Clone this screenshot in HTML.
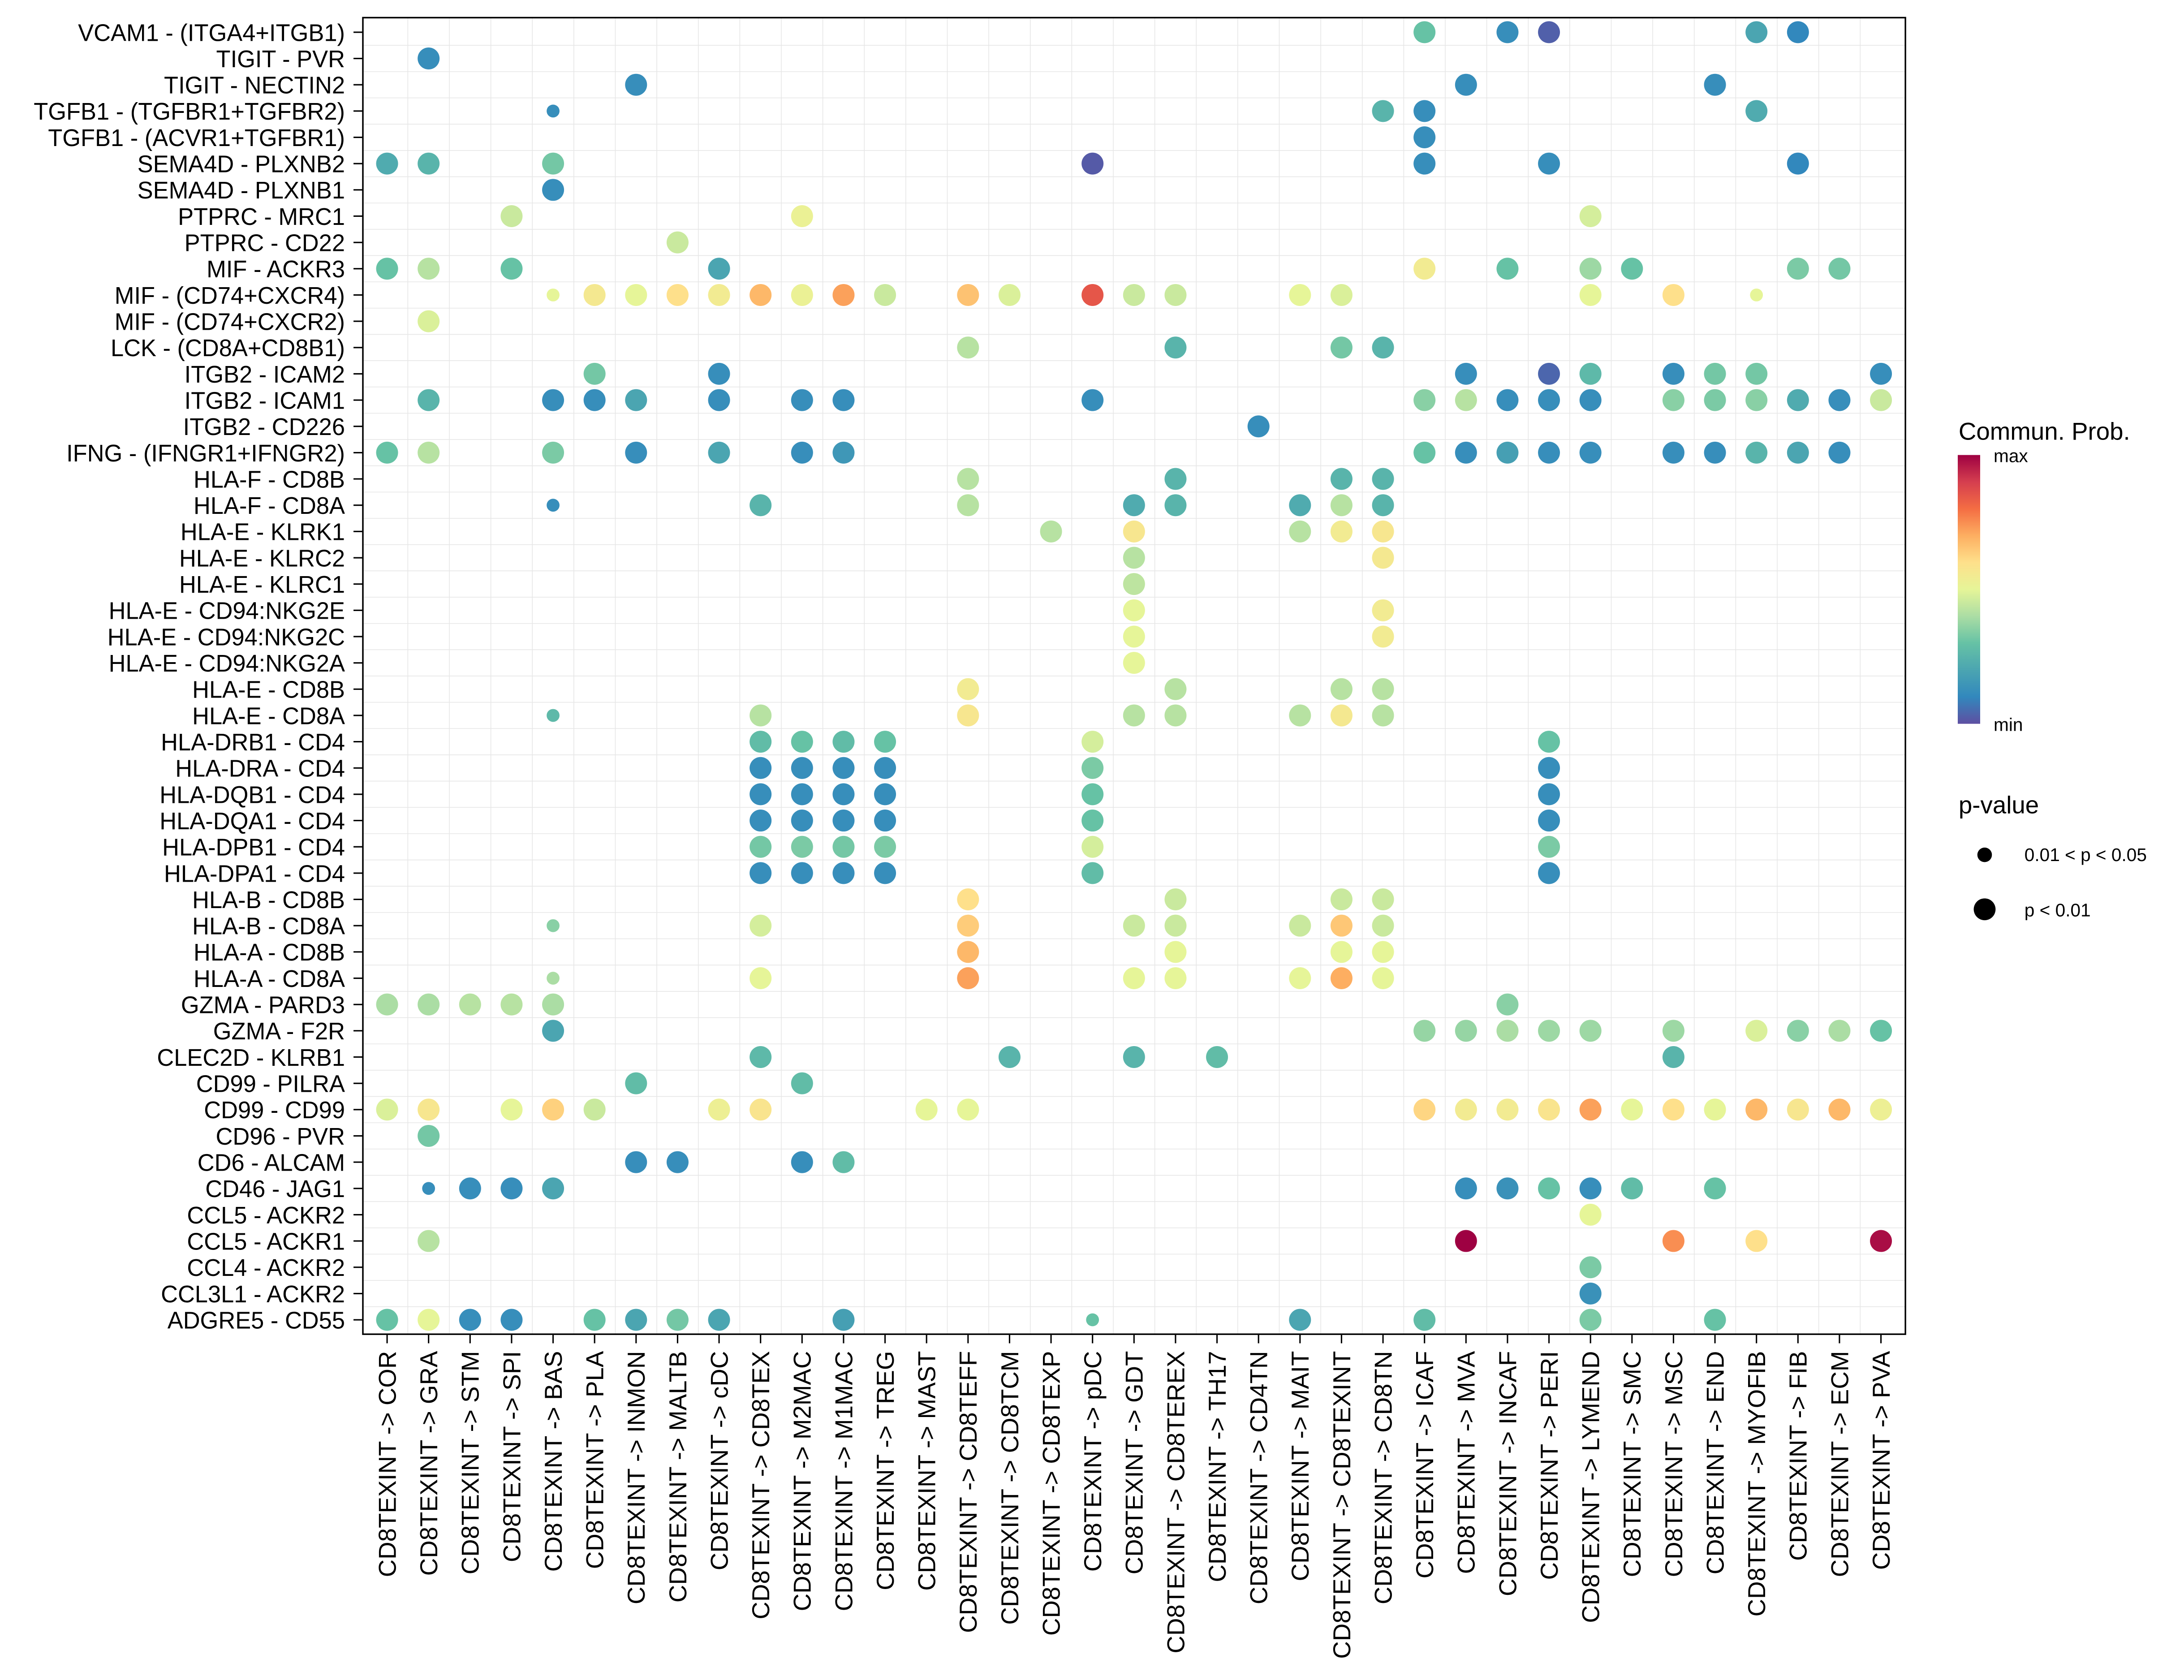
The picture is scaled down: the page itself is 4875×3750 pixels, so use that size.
<!DOCTYPE html>
<html><head><meta charset="utf-8"><style>
html,body{margin:0;padding:0;background:#fff;}
svg{display:block;font-family:"Liberation Sans",Arial,sans-serif;}
</style></head><body>
<svg id="chart" xmlns="http://www.w3.org/2000/svg" width="4875" height="3750" viewBox="0 0 1560 1200">
<defs>
<linearGradient id="cbar" x1="0" y1="1" x2="0" y2="0">
<stop offset="0" stop-color="#5E4FA2"/><stop offset="0.1" stop-color="#3288BD"/><stop offset="0.2" stop-color="#4BA5B1"/><stop offset="0.3" stop-color="#66C2A5"/><stop offset="0.4" stop-color="#ABDDA4"/><stop offset="0.5" stop-color="#E6F598"/><stop offset="0.6" stop-color="#FEE08B"/><stop offset="0.7" stop-color="#FDAE61"/><stop offset="0.8" stop-color="#F46D43"/><stop offset="0.9" stop-color="#D53E4F"/><stop offset="1" stop-color="#9E0142"/>
</linearGradient>
</defs>
<g id="grid"></g>
<g id="dots"></g>
<rect x="259.2" y="12.6" width="1101.8" height="940.4" fill="none" stroke="#000" stroke-width="1.1"/>
<g id="ylab"></g>
<g id="xlab"></g>
<g>
<text x="1399" y="314" font-size="17.5" fill="#000">Commun. Prob.</text>
<rect x="1398.4" y="325" width="16" height="192" fill="url(#cbar)"/>
<text x="1424" y="330" font-size="13">max</text>
<text x="1424" y="522" font-size="13">min</text>
</g>
<g>
<text x="1399" y="581" font-size="17.5">p-value</text>
<circle cx="1417.6" cy="610.6" r="5.2" fill="#000"/>
<text x="1446" y="615" font-size="13">0.01 &lt; p &lt; 0.05</text>
<circle cx="1417.6" cy="649.5" r="7.8" fill="#000"/>
<text x="1446" y="654.5" font-size="13">p &lt; 0.01</text>
</g>
</svg>
<script>
const rowLabels = ["VCAM1 - (ITGA4+ITGB1)","TIGIT - PVR","TIGIT - NECTIN2","TGFB1 - (TGFBR1+TGFBR2)","TGFB1 - (ACVR1+TGFBR1)","SEMA4D - PLXNB2","SEMA4D - PLXNB1","PTPRC - MRC1","PTPRC - CD22","MIF - ACKR3","MIF - (CD74+CXCR4)","MIF - (CD74+CXCR2)","LCK - (CD8A+CD8B1)","ITGB2 - ICAM2","ITGB2 - ICAM1","ITGB2 - CD226","IFNG - (IFNGR1+IFNGR2)","HLA-F - CD8B","HLA-F - CD8A","HLA-E - KLRK1","HLA-E - KLRC2","HLA-E - KLRC1","HLA-E - CD94:NKG2E","HLA-E - CD94:NKG2C","HLA-E - CD94:NKG2A","HLA-E - CD8B","HLA-E - CD8A","HLA-DRB1 - CD4","HLA-DRA - CD4","HLA-DQB1 - CD4","HLA-DQA1 - CD4","HLA-DPB1 - CD4","HLA-DPA1 - CD4","HLA-B - CD8B","HLA-B - CD8A","HLA-A - CD8B","HLA-A - CD8A","GZMA - PARD3","GZMA - F2R","CLEC2D - KLRB1","CD99 - PILRA","CD99 - CD99","CD96 - PVR","CD6 - ALCAM","CD46 - JAG1","CCL5 - ACKR2","CCL5 - ACKR1","CCL4 - ACKR2","CCL3L1 - ACKR2","ADGRE5 - CD55"];
const colTargets = ["COR","GRA","STM","SPI","BAS","PLA","INMON","MALTB","cDC","CD8TEX","M2MAC","M1MAC","TREG","MAST","CD8TEFF","CD8TCM","CD8TEXP","pDC","GDT","CD8TEREX","TH17","CD4TN","MAIT","CD8TEXINT","CD8TN","ICAF","MVA","INCAF","PERI","LYMEND","SMC","MSC","END","MYOFIB","FIB","ECM","PVA"];
// each row: [colIndex, commProb (0=min..1=max), significant (1: p<0.01, 0: 0.01<p<0.05)]
const rowPoints = [
[[25,0.3,1],[27,0.12,1],[28,0.03,1],[33,0.2,1],[34,0.1,1]],
[[1,0.12,1]],
[[6,0.12,1],[26,0.12,1],[32,0.12,1]],
[[4,0.12,0],[24,0.25,1],[25,0.12,1],[33,0.22,1]],
[[25,0.12,1]],
[[0,0.22,1],[1,0.25,1],[4,0.32,1],[17,0.02,1],[25,0.12,1],[28,0.12,1],[34,0.1,1]],
[[4,0.12,1]],
[[3,0.45,1],[10,0.52,1],[29,0.47,1]],
[[7,0.45,1]],
[[0,0.3,1],[1,0.42,1],[3,0.3,1],[8,0.2,1],[25,0.55,1],[27,0.3,1],[29,0.38,1],[30,0.3,1],[34,0.33,1],[35,0.32,1]],
[[4,0.5,0],[5,0.56,1],[6,0.5,1],[7,0.6,1],[8,0.55,1],[9,0.68,1],[10,0.52,1],[11,0.72,1],[12,0.45,1],[14,0.66,1],[15,0.48,1],[17,0.85,1],[18,0.45,1],[19,0.45,1],[22,0.5,1],[23,0.48,1],[29,0.5,1],[31,0.6,1],[33,0.5,0]],
[[1,0.48,1]],
[[14,0.42,1],[19,0.25,1],[23,0.32,1],[24,0.25,1]],
[[5,0.32,1],[8,0.12,1],[26,0.12,1],[28,0.04,1],[29,0.27,1],[31,0.12,1],[32,0.32,1],[33,0.32,1],[36,0.12,1]],
[[1,0.25,1],[4,0.12,1],[5,0.12,1],[6,0.2,1],[8,0.12,1],[10,0.12,1],[11,0.12,1],[17,0.12,1],[25,0.35,1],[26,0.42,1],[27,0.12,1],[28,0.12,1],[29,0.12,1],[31,0.35,1],[32,0.33,1],[33,0.35,1],[34,0.22,1],[35,0.12,1],[36,0.45,1]],
[[21,0.12,1]],
[[0,0.3,1],[1,0.42,1],[4,0.33,1],[6,0.12,1],[8,0.2,1],[10,0.12,1],[11,0.15,1],[25,0.3,1],[26,0.12,1],[27,0.18,1],[28,0.12,1],[29,0.12,1],[31,0.12,1],[32,0.12,1],[33,0.25,1],[34,0.2,1],[35,0.12,1]],
[[14,0.42,1],[19,0.25,1],[23,0.25,1],[24,0.25,1]],
[[4,0.12,0],[9,0.25,1],[14,0.42,1],[18,0.22,1],[19,0.25,1],[22,0.22,1],[23,0.42,1],[24,0.25,1]],
[[16,0.42,1],[18,0.57,1],[22,0.42,1],[23,0.55,1],[24,0.57,1]],
[[18,0.42,1],[24,0.56,1]],
[[18,0.43,1]],
[[18,0.5,1],[24,0.55,1]],
[[18,0.5,1],[24,0.55,1]],
[[18,0.5,1]],
[[14,0.55,1],[19,0.42,1],[23,0.42,1],[24,0.42,1]],
[[4,0.27,0],[9,0.42,1],[14,0.57,1],[18,0.42,1],[19,0.42,1],[22,0.42,1],[23,0.56,1],[24,0.42,1]],
[[9,0.28,1],[10,0.3,1],[11,0.28,1],[12,0.3,1],[17,0.47,1],[28,0.3,1]],
[[9,0.12,1],[10,0.12,1],[11,0.12,1],[12,0.12,1],[17,0.33,1],[28,0.12,1]],
[[9,0.12,1],[10,0.12,1],[11,0.12,1],[12,0.12,1],[17,0.3,1],[28,0.12,1]],
[[9,0.12,1],[10,0.12,1],[11,0.12,1],[12,0.12,1],[17,0.3,1],[28,0.12,1]],
[[9,0.32,1],[10,0.33,1],[11,0.32,1],[12,0.33,1],[17,0.47,1],[28,0.33,1]],
[[9,0.12,1],[10,0.12,1],[11,0.12,1],[12,0.12,1],[17,0.28,1],[28,0.12,1]],
[[14,0.6,1],[19,0.45,1],[23,0.45,1],[24,0.45,1]],
[[4,0.35,0],[9,0.47,1],[14,0.64,1],[18,0.45,1],[19,0.45,1],[22,0.45,1],[23,0.65,1],[24,0.45,1]],
[[14,0.68,1],[19,0.5,1],[23,0.5,1],[24,0.5,1]],
[[4,0.4,0],[9,0.5,1],[14,0.72,1],[18,0.5,1],[19,0.5,1],[22,0.5,1],[23,0.7,1],[24,0.5,1]],
[[0,0.4,1],[1,0.4,1],[2,0.42,1],[3,0.42,1],[4,0.4,1],[27,0.35,1]],
[[4,0.2,1],[25,0.37,1],[26,0.37,1],[27,0.4,1],[28,0.38,1],[29,0.38,1],[31,0.38,1],[33,0.48,1],[34,0.35,1],[35,0.4,1],[36,0.3,1]],
[[9,0.27,1],[15,0.25,1],[18,0.25,1],[20,0.28,1],[31,0.25,1]],
[[6,0.28,1],[10,0.28,1]],
[[0,0.48,1],[1,0.57,1],[3,0.5,1],[4,0.63,1],[5,0.45,1],[8,0.53,1],[9,0.58,1],[13,0.5,1],[14,0.5,1],[25,0.62,1],[26,0.55,1],[27,0.55,1],[28,0.58,1],[29,0.72,1],[30,0.5,1],[31,0.6,1],[32,0.5,1],[33,0.68,1],[34,0.57,1],[35,0.68,1],[36,0.53,1]],
[[1,0.32,1]],
[[6,0.12,1],[7,0.12,1],[10,0.12,1],[11,0.28,1]],
[[1,0.12,0],[2,0.12,1],[3,0.12,1],[4,0.2,1],[26,0.12,1],[27,0.13,1],[28,0.3,1],[29,0.12,1],[30,0.28,1],[32,0.3,1]],
[[29,0.5,1]],
[[1,0.42,1],[26,1.0,1],[31,0.75,1],[33,0.6,1],[36,0.98,1]],
[[29,0.33,1]],
[[29,0.13,1]],
[[0,0.3,1],[1,0.5,1],[2,0.12,1],[3,0.12,1],[5,0.3,1],[6,0.2,1],[7,0.32,1],[8,0.2,1],[11,0.18,1],[17,0.3,0],[22,0.2,1],[25,0.28,1],[29,0.33,1],[32,0.3,1]]
];
const palette = ["#5E4FA2","#3288BD","#4BA5B1","#66C2A5","#ABDDA4","#E6F598","#FEE08B","#FDAE61","#F46D43","#D53E4F","#9E0142"];

const NS="http://www.w3.org/2000/svg";
const X0=276.5, XSTEP=29.64, Y0=23, YSTEP=18.77;
const LEFT=259.2, RIGHT=1361, TOP=12.6, BOTTOM=953;
function xScale(c){return X0+XSTEP*c;}
function yScale(r){return Y0+YSTEP*r;}
function hex(h){return [1,3,5].map(i=>parseInt(h.substr(i,2),16));}
function color(v){
  v=Math.max(0,Math.min(1,v));const t=v*(palette.length-1);const i=Math.min(Math.floor(t),palette.length-2);const f=t-i;
  const a=hex(palette[i]),b=hex(palette[i+1]);
  return "rgb("+a.map((x,k)=>Math.round(x+(b[k]-x)*f)).join(",")+")";
}
function mk(tag,attrs,parent){const e=document.createElementNS(NS,tag);for(const k in attrs)e.setAttribute(k,attrs[k]);parent.appendChild(e);return e;}
const grid=document.getElementById('grid'),dots=document.getElementById('dots'),ylab=document.getElementById('ylab'),xlab=document.getElementById('xlab');
for(let r=0;r<rowLabels.length-1;r++){
  const y=yScale(r+0.5);
  const g=mk('line',{x1:LEFT,x2:RIGHT,y1:y,y2:y,stroke:'#e6e6e6','stroke-width':0.5},grid);
  
  
}
for(let c=0;c<colTargets.length-1;c++){
  const x=xScale(c+0.5);
  const g=mk('line',{x1:x,x2:x,y1:TOP,y2:BOTTOM,stroke:'#e6e6e6','stroke-width':0.5},grid);
  
  
}
rowLabels.forEach((lab,r)=>{
  const y=yScale(r);
  const tk=mk('line',{x1:252.5,x2:LEFT,y1:y,y2:y,stroke:'#000','stroke-width':1},ylab);
  
  
  const t=mk('text',{x:0,y:0,'text-anchor':'end','font-size':17.3,fill:'#000',transform:'translate(246.4,'+(y+6.2)+') scale(0.97,1)'},ylab);
  t.textContent=lab;
  
  
});
colTargets.forEach((c,i)=>{
  const x=xScale(i);
  const tk=mk('line',{x1:x,x2:x,y1:BOTTOM,y2:BOTTOM+6.5,stroke:'#000','stroke-width':1},xlab);
  
  
  const t=mk('text',{x:0,y:0,'text-anchor':'end','font-size':17.5,fill:'#000',transform:'translate('+(x+6.2)+',965) rotate(-90)'},xlab);
  t.textContent='CD8TEXINT -> '+c;
  
  
});
rowPoints.forEach((pts,r)=>{
  pts.forEach(p=>{
    const d=mk('circle',{cx:xScale(p[0]),cy:yScale(r),r:p[2]?7.84:4.6,fill:color(p[1])},dots);
    
    
  });
});
</script>
</body></html>
